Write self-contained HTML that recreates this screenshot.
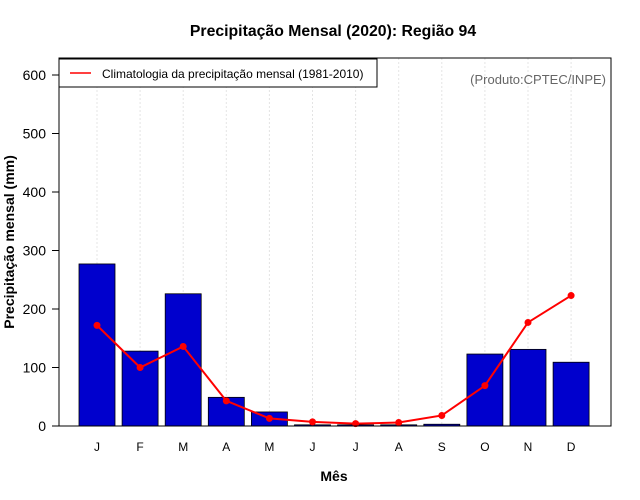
<!DOCTYPE html>
<html><head><meta charset="utf-8"><style>
body{margin:0;background:#fff;}
svg{display:block;font-family:"Liberation Sans",Arial,sans-serif;}
</style></head><body>
<svg id="c" width="640" height="500">
<text x="333" y="36" text-anchor="middle" font-size="15.8" font-weight="bold">Precipitação Mensal (2020): Região 94</text>
<g id="grid"></g>
<g id="bars"></g>
<g id="line"></g>
<rect x="59" y="58" width="552" height="368" fill="none" stroke="#000" stroke-width="1"/>
<g id="yaxis"></g>
<g id="xaxis"></g>
<text x="14" y="242" transform="rotate(-90 14 242)" text-anchor="middle" font-size="14" font-weight="bold">Precipitação mensal (mm)</text>
<text x="334" y="481" text-anchor="middle" font-size="14" font-weight="bold">Mês</text>
<g>
<rect x="59" y="59" width="318" height="28" fill="#fff" stroke="#000" stroke-width="1"/>
<line x1="70" y1="73" x2="91" y2="73" stroke="#f00" stroke-width="1.5"/>
<text x="102" y="78" font-size="12">Climatologia da precipitação mensal (1981-2010)</text>
</g>
<text x="606" y="84" text-anchor="end" font-size="13" fill="#666">(Produto:CPTEC/INPE)</text>
</svg>
<script>
const months = ["J","F","M","A","M","J","J","A","S","O","N","D"];
const precip2020 = [277,128,226,49,24,2,2,2,3,123,131,109];
const climatology = [172,100,136,43,13,7,4,6,18,69,177,223];
const yTicks = [0,100,200,300,400,500,600];
const NS="http://www.w3.org/2000/svg";
const x = i => 97 + i*43.1;
const y = v => 426 - v*0.585;
function mk(tag, attrs, parent){const e=document.createElementNS(NS,tag);for(const k in attrs)e.setAttribute(k,attrs[k]);document.getElementById(parent).appendChild(e);return e;}
months.forEach((m,i)=>{
  const g=mk('line',{x1:x(i),x2:x(i),y1:58,y2:426,stroke:'#e4e4e4','stroke-dasharray':'2,2'},'grid');
  
  
  const b=mk('rect',{x:x(i)-18,y:y(precip2020[i]),width:36,height:426-y(precip2020[i]),fill:'#0000cd',stroke:'#000','stroke-width':0.8},'bars');
  
  
  const t=mk('text',{x:x(i),y:451,'text-anchor':'middle','font-size':12},'xaxis');
  t.textContent=m;
  
  
});
const pl=mk('polyline',{points:climatology.map((v,i)=>x(i)+','+y(v)).join(' '),fill:'none',stroke:'#f00','stroke-width':2},'line');


climatology.forEach((v,i)=>{
  const c=mk('circle',{cx:x(i),cy:y(v),r:3.5,fill:'#f00'},'line');
  
  
});
yTicks.forEach(v=>{
  const l=mk('line',{x1:52,x2:59,y1:y(v),y2:y(v),stroke:'#000'},'yaxis');
  
  
  const t=mk('text',{x:46,y:y(v)+5,'text-anchor':'end','font-size':14},'yaxis');
  t.textContent=v;
  
  
});
</script>
</body></html>
